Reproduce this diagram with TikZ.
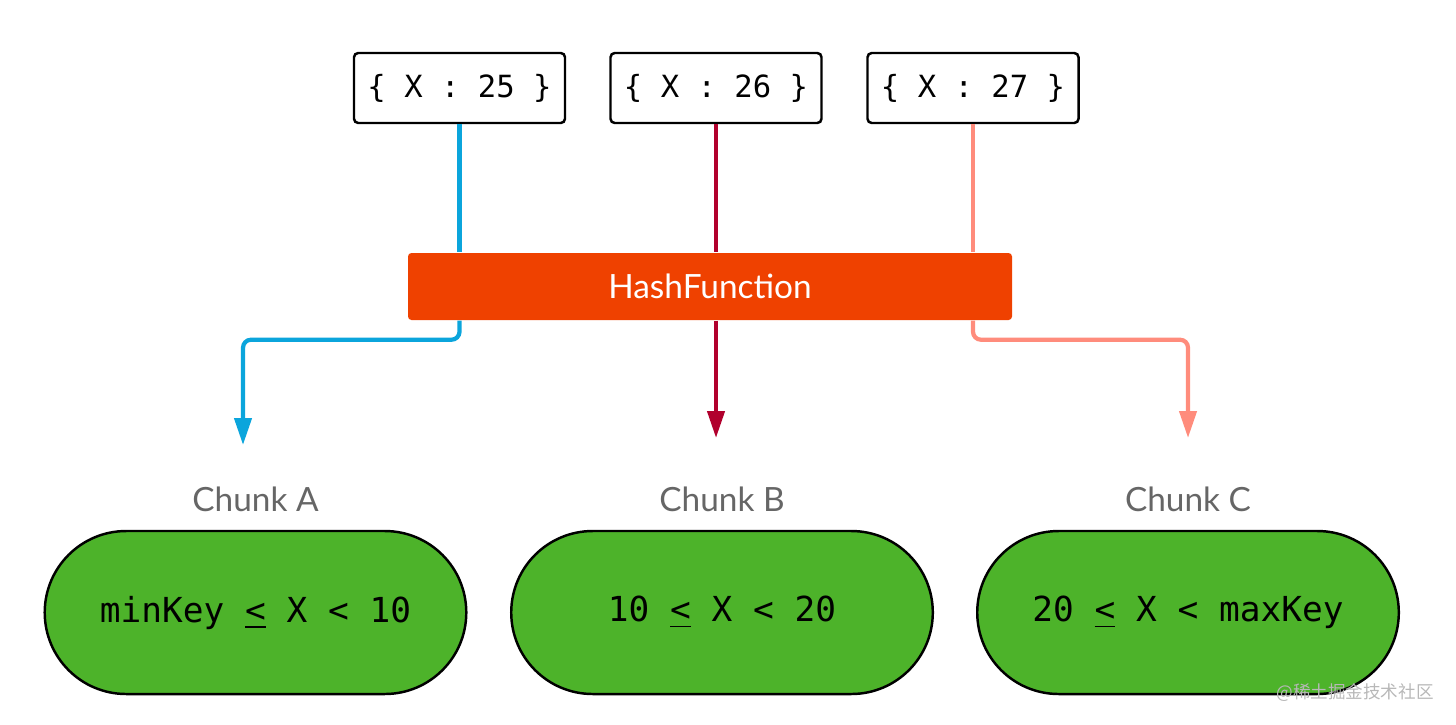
\documentclass[tikz,border=0pt]{standalone}
\usepackage{fontspec}
\setmainfont{Lato}
\newfontfamily\codefont{DejaVu Sans Mono}
\newfontfamily\cjkfont{Noto Sans CJK SC}
\usetikzlibrary{positioning, shapes.misc, arrows.meta}

\definecolor{keyblue}{HTML}{0BA5DC}
\definecolor{keyred}{HTML}{B1002D}
\definecolor{keysalmon}{HTML}{FF8C7C}
\definecolor{hashorange}{HTML}{EF4100}
\definecolor{chunkgreen}{HTML}{4DB32A}
\definecolor{chunkgray}{HTML}{666666}

\tikzset{
    keybox/.style={draw, line width=0.7pt, rounded corners=1.2pt,
        minimum width=2.11cm, minimum height=0.70cm,
        font=\codefont\fontsize{8.7}{10}\selectfont},
    hashbox/.style={fill=hashorange, rounded corners=1pt, text=white,
        minimum width=6.04cm, minimum height=0.67cm,
        font=\fontsize{9.5}{11}\selectfont},
    chunk/.style={rounded rectangle, draw, line width=0.7pt, fill=chunkgreen,
        minimum width=4.45cm, minimum height=1.63cm,
        font=\codefont\fontsize{9.8}{12}\selectfont},
    chunklabel/.style={text=chunkgray, font=\fontsize{9.5}{11}\selectfont},
    feed/.style={line width=1.2pt},
    flow/.style={line width=1.2pt, rounded corners=0.08cm,
        -{Triangle[width=0.17cm,length=0.27cm]}},
    watermark/.style={text=black!28, font=\cjkfont\fontsize{5}{6}\selectfont}
}

\begin{document}
\begin{tikzpicture}
    \useasboundingbox (0,0) rectangle (14.56,-7.24);

    % keys
    \node (k25) [keybox] at (4.595,-0.88) {\{ X : 25 \}};
    \node (k26) [keybox] at (7.16,-0.88)  {\{ X : 26 \}};
    \node (k27) [keybox] at (9.73,-0.88)  {\{ X : 27 \}};

    \node (hash) [hashbox] at (7.10,-2.865) {HashFunction};

    % chunks
    \node (chunkA) [chunk] at (2.555,-6.125) {minKey \underline{<} X < 10};
    \node (chunkB) [chunk] at (7.22,-6.125)  {10 \underline{<} X < 20};
    \node (chunkC) [chunk] at (11.88,-6.125) {20 \underline{<} X < maxKey};

    \node (labelA) [chunklabel, above=0.06cm of chunkA] {Chunk A};
    \node (labelB) [chunklabel, above=0.06cm of chunkB] {Chunk B};
    \node (labelC) [chunklabel, above=0.06cm of chunkC] {Chunk C};

    \coordinate (tipA) at (2.43,-4.45);
    \coordinate (tipB) at (7.16,-4.38);
    \coordinate (tipC) at (11.88,-4.38);

    % into the hash function
    \draw[feed, keyblue]   (k25.south) -- (k25.south |- hash.north);
    \draw[feed, keyred]    (k26.south) -- (k26.south |- hash.north);
    \draw[feed, keysalmon] (k27.south) -- (k27.south |- hash.north);

    % out to the chunks
    \draw[flow, keyblue]   (k25.south |- hash.south) -- ++(0,-0.19) -| (tipA);
    \draw[flow, keyred]    (k26.south |- hash.south) -- (tipB);
    \draw[flow, keysalmon] (k27.south |- hash.south) -- ++(0,-0.19) -| (tipC);

    \node (mark) [watermark] at (13.55,-6.93) {@稀土掘金技术社区};
\end{tikzpicture}
\end{document}
